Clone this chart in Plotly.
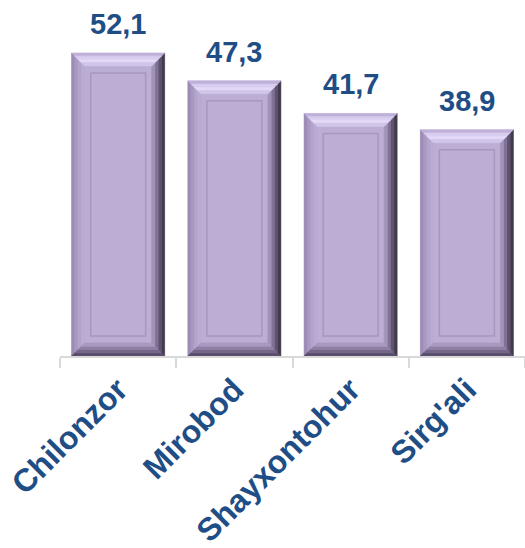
import plotly.graph_objects as go

categories = ["Chilonzor", "Mirobod", "Shayxontohur", "Sirg'ali"]
values = [52.1, 47.3, 41.7, 38.9]

FACE = "#bcadd5"
TEXT_BLUE = "#1f4e86"
BAR_W = 0.8
Y_MAX = 61.2
PX_X = 465 / 4.0          # pixels per x unit
PX_Y = 356 / Y_MAX        # pixels per y unit
BEVEL_X = 13 / PX_X
BEVEL_Y = 13 / PX_Y
INSET_X = 19 / PX_X
INSET_Y = 20 / PX_Y

grad = {
    "top": ["#bfb0d8", "#d8ccef", "#e3d8f6", "#d2c5ea"],
    "left": ["#9c8cb6", "#a999c2", "#b3a4cc", "#baabd3"],
    "right": ["#433a4d", "#5f5270", "#807294", "#a193b8"],
    "bottom": ["#5a4e6c", "#746688", "#8e80a4", "#a999c1"],
}

xs = list(range(len(categories)))

fig = go.Figure()
fig.add_trace(go.Bar(x=xs, y=values, width=BAR_W, marker=dict(color=FACE, line=dict(width=0)),
                     hoverinfo="skip", showlegend=False))


def poly(side, c, v, t0, t1):
    L, R, T, B = c - BAR_W / 2, c + BAR_W / 2, v, 0.0
    bx, by = BEVEL_X, BEVEL_Y
    if side == "top":
        pts = [(L + t0 * bx, T - t0 * by), (R - t0 * bx, T - t0 * by),
               (R - t1 * bx, T - t1 * by), (L + t1 * bx, T - t1 * by)]
    elif side == "bottom":
        pts = [(L + t0 * bx, B + t0 * by), (R - t0 * bx, B + t0 * by),
               (R - t1 * bx, B + t1 * by), (L + t1 * bx, B + t1 * by)]
    elif side == "left":
        pts = [(L + t0 * bx, T - t0 * by), (L + t1 * bx, T - t1 * by),
               (L + t1 * bx, B + t1 * by), (L + t0 * bx, B + t0 * by)]
    else:
        pts = [(R - t0 * bx, T - t0 * by), (R - t1 * bx, T - t1 * by),
               (R - t1 * bx, B + t1 * by), (R - t0 * bx, B + t0 * by)]
    pts.append(pts[0])
    return pts


for side in ["left", "right", "top", "bottom"]:
    cols = grad[side]
    n = len(cols)
    for k, col in enumerate(cols):
        t0, t1 = k / n, (k + 1) / n
        px, py = [], []
        for c, v in zip(xs, values):
            for (a, b) in poly(side, c, v, t0, t1):
                px.append(a)
                py.append(b)
            px.append(None)
            py.append(None)
        fig.add_trace(go.Scatter(x=px, y=py, mode="lines", fill="toself", fillcolor=col,
                                 line=dict(color=col, width=0.6), hoverinfo="skip",
                                 showlegend=False))

# inner recessed panel outline
ix, iy = [], []
for c, v in zip(xs, values):
    L, R = c - BAR_W / 2 + INSET_X, c + BAR_W / 2 - INSET_X
    T, B = v - INSET_Y, INSET_Y
    ix += [L, R, R, L, L, None]
    iy += [T, T, B, B, T, None]
fig.add_trace(go.Scatter(x=ix, y=iy, mode="lines", line=dict(color="#a797bf", width=1.5),
                         hoverinfo="skip", showlegend=False))

for c, v in zip(xs, values):
    fig.add_annotation(x=c, y=v, text=f"{v:.1f}".replace(".", ","), showarrow=False,
                       yanchor="bottom", yshift=11,
                       font=dict(family="Liberation Sans, Arial", size=29, color=TEXT_BLUE,
                                 weight="bold"))

fig.update_layout(
    width=525, height=548,
    margin=dict(l=60, r=0, t=0, b=192),
    paper_bgcolor="white", plot_bgcolor="white",
    xaxis=dict(range=[-0.5, 3.5], tickmode="array", tickvals=xs, ticktext=categories,
               tickangle=-45, ticks="", showgrid=False, zeroline=False,
               showline=True, linecolor="#d9d9d9", linewidth=2, automargin=False,
               tickfont=dict(family="Liberation Sans, Arial", size=32, color=TEXT_BLUE,
                             weight="bold"),
               minor=dict(tickvals=[-0.5, 0.5, 1.5, 2.5, 3.5], ticks="outside", ticklen=10,
                          tickcolor="#d9d9d9", tickwidth=2, showgrid=False)),
    yaxis=dict(range=[0, Y_MAX], visible=False, showgrid=False, zeroline=False),
    bargap=0.2,
)

fig.write_html("out.html", config={"displayModeBar": False},
               post_script="document.body.style.margin='0';")
